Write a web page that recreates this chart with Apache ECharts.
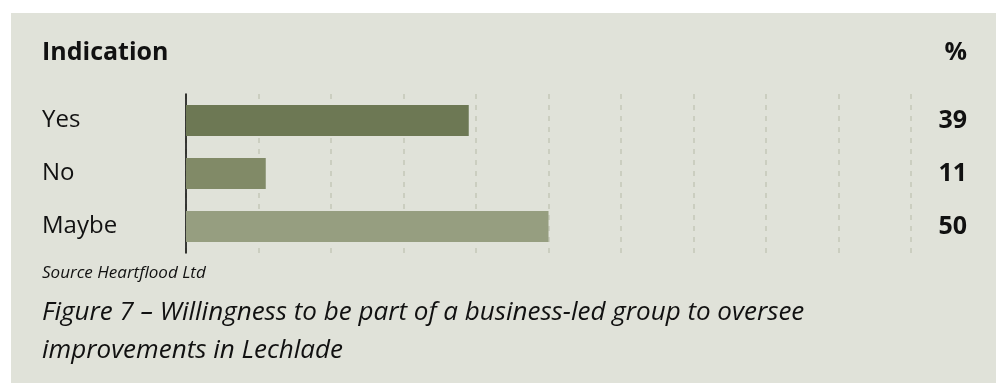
<!DOCTYPE html>
<html>
<head>
<meta charset="utf-8">
<script src="https://cdn.jsdelivr.net/npm/echarts@6/dist/echarts.min.js"></script>
<style>
  html, body { margin: 0; padding: 0; background: #fff; }
  #chart { width: 996px; height: 383px; }
</style>
</head>
<body>
<div id="chart"></div>
<script>
// data
const categories = ['Yes', 'No', 'Maybe']
const percentValues = [39, 11, 50]
const barColors = ['#6d7854', '#818a67', '#969e80']

const textColor = '#111111'
const fontFamily = '"Open Sans", "Noto Sans", sans-serif'

const chart = echarts.init(document.getElementById('chart'), null, { renderer: 'canvas' })

const option = {
  animation: false,
  backgroundColor: '#ffffff',
  graphic: [
    {
      // beige panel behind everything
      type: 'rect',
      z: -10,
      silent: true,
      shape: { x: 11, y: 13, width: 985, height: 370 },
      style: { fill: '#e0e2d9' },
    },
    {
      type: 'text',
      left: 42,
      top: 40,
      style: { text: 'Indication', font: 'bold 25px ' + fontFamily, fill: textColor },
    },
    {
      type: 'text',
      right: 29,
      top: 40,
      style: { text: '%', font: 'bold 25px ' + fontFamily, fill: textColor },
    },
    {
      type: 'text',
      left: 42,
      top: 265,
      style: { text: 'Source Heartflood Ltd', font: 'italic 17px ' + fontFamily, fill: textColor },
    },
    {
      type: 'text',
      left: 42,
      top: 294,
      style: {
        text: 'Figure 7 – Willingness to be part of a business-led group to oversee\nimprovements in Lechlade',
        font: 'italic 26px ' + fontFamily,
        lineHeight: 38,
        fill: textColor,
      },
    },
  ],
  grid: {
    left: 186,
    width: 725,
    top: 94,
    height: 159,
    containLabel: false,
  },
  xAxis: {
    type: 'value',
    min: 0,
    max: 100,
    interval: 10,
    axisLine: { show: false },
    axisTick: { show: false },
    axisLabel: { show: false },
    splitLine: {
      show: true,
      lineStyle: { color: '#c4c7b8', width: 1.5, type: [5, 6] },
    },
  },
  yAxis: [
    {
      type: 'category',
      data: categories,
      inverse: true,
      axisLine: { show: true, onZero: false, lineStyle: { color: '#000', width: 1.5 } },
      axisTick: { show: false },
      axisLabel: {
        align: 'left',
        margin: 144,
        color: textColor,
        fontSize: 24,
        fontFamily: fontFamily,
      },
    },
    {
      // value column on the right
      type: 'category',
      position: 'right',
      data: percentValues.map(String),
      inverse: true,
      axisLine: { show: false },
      axisTick: { show: false },
      axisLabel: {
        align: 'right',
        margin: 56,
        color: textColor,
        fontSize: 25,
        fontWeight: 'bold',
        fontFamily: fontFamily,
      },
    },
  ],
  series: [
    {
      type: 'bar',
      yAxisIndex: 0,
      data: percentValues.map((v, i) => ({ value: v, itemStyle: { color: barColors[i] } })),
      barWidth: 31,
      silent: true,
    },
  ],
}

chart.setOption(option)
window.addEventListener('resize', function () {
  chart && chart.resize()
})
</script>
</body>
</html>
